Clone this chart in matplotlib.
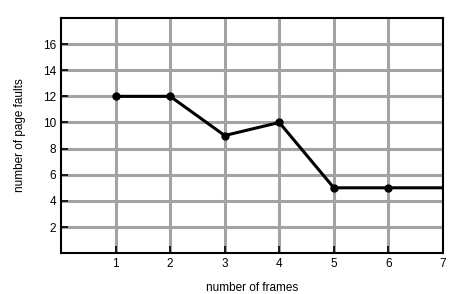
import numpy as np
import matplotlib.pyplot as plt

plt.rcParams['font.family'] = ['Liberation Sans', 'DejaVu Sans']

frames = [1, 2, 3, 4, 5, 6, 7]
faults = [12, 12, 9, 10, 5, 5, 5]
x_ticks = [1, 2, 3, 4, 5, 6, 7]
y_ticks = [2, 4, 6, 8, 10, 12, 14, 16]

fig = plt.figure(figsize=(4.59, 2.94), dpi=100)
ax = fig.add_axes([0.133, 0.139, 0.832, 0.800])

ax.plot(frames, faults, color='black', linewidth=2.2, zorder=3)
ax.plot(frames[:-1], faults[:-1], 'o', color='black', markersize=5, zorder=4)

ax.set_xlim(0, 7)
ax.set_ylim(0, 18)
ax.set_xticks(x_ticks)
ax.set_yticks(y_ticks)
ax.grid(True, color='#a3a3a3', linewidth=2.2)
ax.set_axisbelow(True)
ax.tick_params(direction='in', length=5, width=1.2, labelsize=8.5, colors='black')
for s in ax.spines.values():
    s.set_linewidth(1.5)

ax.set_xlabel('number of frames', fontsize=8.5, labelpad=9)
ax.set_ylabel('number of page faults', fontsize=8.5, labelpad=12)

fig.savefig('out.png', dpi=100)
